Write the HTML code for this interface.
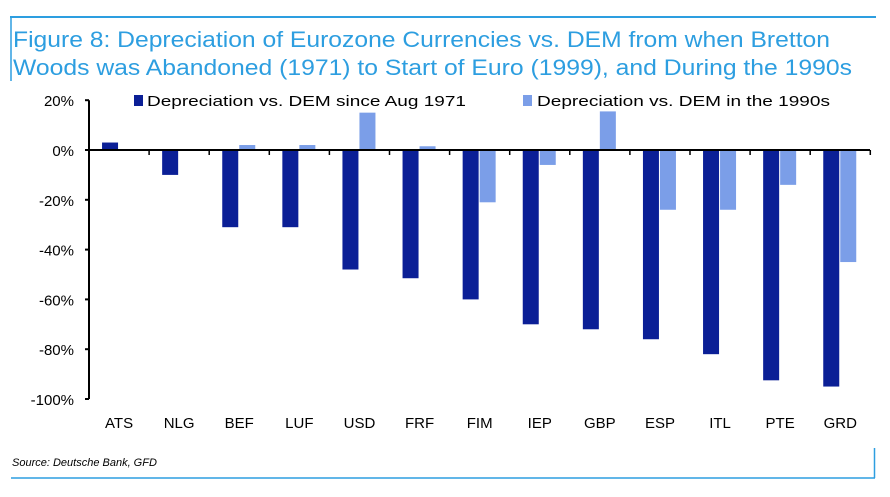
<!DOCTYPE html>
<html><head><meta charset="utf-8"><style>
body{margin:0;background:#fff;}
svg{display:block;font-family:"Liberation Sans",sans-serif;}
</style></head><body>
<svg id="c" width="890" height="497">
<line x1="10" y1="17" x2="876" y2="17" stroke="#2d9ee0" stroke-width="2"/>
<line x1="11" y1="17" x2="11" y2="81" stroke="#2d9ee0" stroke-width="1.5"/>
<line x1="11" y1="478" x2="875" y2="478" stroke="#2d9ee0" stroke-width="1.5"/>
<line x1="874.5" y1="448" x2="874.5" y2="478" stroke="#2d9ee0" stroke-width="1.5"/>
<text x="13" y="47" font-size="22" fill="#2d9ee0" textLength="817" lengthAdjust="spacingAndGlyphs">Figure 8: Depreciation of Eurozone Currencies vs. DEM from when Bretton</text>
<text x="13" y="75" font-size="22" fill="#2d9ee0" textLength="839" lengthAdjust="spacingAndGlyphs">Woods was Abandoned (1971) to Start of Euro (1999), and During the 1990s</text>
<rect x="134" y="95" width="9" height="11" fill="#0b1f96"/>
<text x="147" y="106" font-size="15" textLength="319" lengthAdjust="spacingAndGlyphs">Depreciation vs. DEM since Aug 1971</text>
<rect x="523" y="95" width="9" height="11" fill="#7b9ee8"/>
<text x="537" y="106" font-size="15" textLength="293" lengthAdjust="spacingAndGlyphs">Depreciation vs. DEM in the 1990s</text>
<g id="plot"></g>
<text x="12" y="466" font-size="11" font-style="italic">Source: Deutsche Bank, GFD</text>
</svg>
<script>
const categories=["ATS","NLG","BEF","LUF","USD","FRF","FIM","IEP","GBP","ESP","ITL","PTE","GRD"];
const since1971=[3,-10,-31,-31,-48,-51.5,-60,-70,-72,-76,-82,-92.5,-95];
const in1990s=[0,0,2,2,15,1.5,-21,-6,15.5,-24,-24,-14,-45];
const yTicks=[20,0,-20,-40,-60,-80,-100];
const NS="http://www.w3.org/2000/svg";
const g=document.getElementById('plot');
const x0=89,band=60.1,y=v=>150-v*2.49;
function el(t,a){const e=document.createElementNS(NS,t);for(const k in a)e.setAttribute(k,a[k]);g.appendChild(e);return e;}
categories.forEach((c,i)=>{
  const cx=x0+band*(i+0.5);
  const b1=el('rect',{x:cx-17,y:Math.min(y(since1971[i]),y(0)),width:16,height:Math.abs(y(since1971[i])-y(0)),fill:'#0b1f96'});
  
  
  const b2=el('rect',{x:cx,y:Math.min(y(in1990s[i]),y(0)),width:16,height:Math.abs(y(in1990s[i])-y(0)),fill:'#7b9ee8'});
  
  
  const t=el('text',{x:cx,y:428,'font-size':15,'text-anchor':'middle'});t.textContent=c;
  
  
});
const ax=el('line',{x1:x0,y1:y(0),x2:870,y2:y(0),stroke:'#000','stroke-width':2});


for(let i=1;i<=13;i++){const tk=el('line',{x1:x0+band*i,y1:y(0),x2:x0+band*i,y2:y(0)+5,stroke:'#000','stroke-width':1.5});
  
  }
const ay=el('line',{x1:x0,y1:y(20),x2:x0,y2:y(-100),stroke:'#000','stroke-width':2});


yTicks.forEach(v=>{
  const tk=el('line',{x1:x0-4,y1:y(v),x2:x0,y2:y(v),stroke:'#000','stroke-width':2});
  
  
  const t=el('text',{x:74,y:y(v)+6,'font-size':15,'text-anchor':'end'});t.textContent=v+'%';
  
  
});
</script>
</body></html>
